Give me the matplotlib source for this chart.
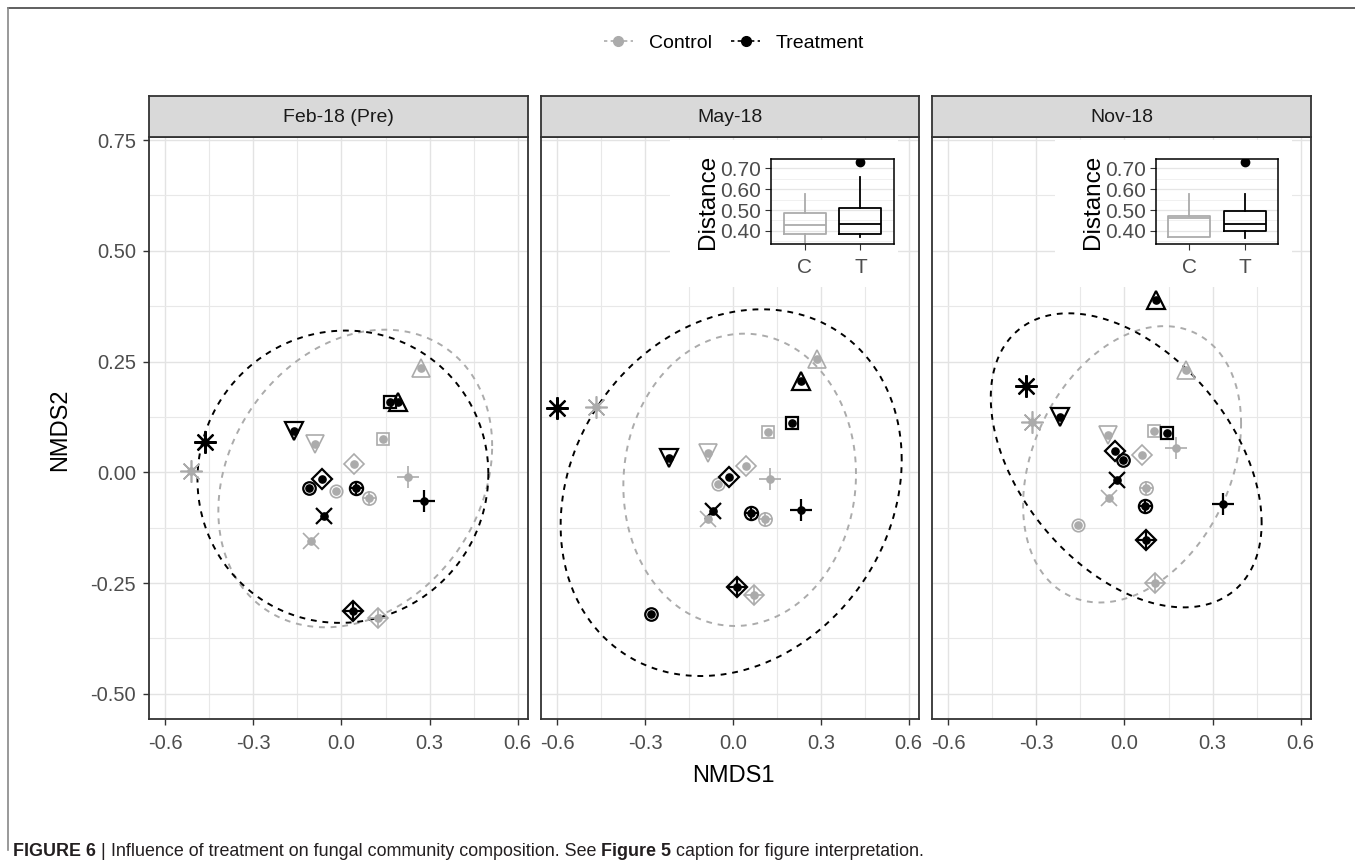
import numpy as np
import matplotlib
matplotlib.use('Agg')
import matplotlib.pyplot as plt
from matplotlib.lines import Line2D
from matplotlib.ticker import MultipleLocator, FormatStrFormatter

plt.rcParams['font.family'] = ['Liberation Sans', 'DejaVu Sans']
plt.rcParams['axes.unicode_minus'] = False

# sampling sites, one marker shape each (same order in every series)
sites = ['asterisk', 'tri_down', 'square', 'tri_up', 'diamond',
         'circle', 'circle_plus', 'cross', 'plus', 'diamond_plus']
panel_titles = ['Feb-18 (Pre)', 'May-18', 'Nov-18']

# NMDS scores
feb_ctrl_x = [-0.511, -0.089, 0.141, 0.271, 0.044, -0.018, 0.095, -0.105, 0.226, 0.126]
feb_ctrl_y = [0.003, 0.065, 0.075, 0.235, 0.018, -0.042, -0.057, -0.155, -0.010, -0.329]
feb_trt_x = [-0.463, -0.160, 0.166, 0.192, -0.066, -0.111, 0.050, -0.058, 0.280, 0.039]
feb_trt_y = [0.069, 0.093, 0.159, 0.158, -0.016, -0.035, -0.035, -0.099, -0.065, -0.314]

may_ctrl_x = [-0.469, -0.084, 0.120, 0.288, 0.044, -0.052, 0.109, -0.084, 0.126, 0.071]
may_ctrl_y = [0.148, 0.043, 0.090, 0.256, 0.014, -0.027, -0.106, -0.106, -0.016, -0.276]
may_trt_x = [-0.600, -0.218, 0.200, 0.231, -0.014, -0.279, 0.061, -0.067, 0.231, 0.013]
may_trt_y = [0.146, 0.032, 0.112, 0.207, -0.010, -0.320, -0.091, -0.088, -0.086, -0.259]

nov_ctrl_x = [-0.315, -0.057, 0.100, 0.210, 0.060, -0.159, 0.072, -0.054, 0.174, 0.103]
nov_ctrl_y = [0.114, 0.084, 0.093, 0.231, 0.038, -0.118, -0.035, -0.057, 0.054, -0.251]
nov_trt_x = [-0.336, -0.218, 0.146, 0.106, -0.031, -0.006, 0.069, -0.025, 0.336, 0.074]
nov_trt_y = [0.195, 0.124, 0.088, 0.388, 0.047, 0.027, -0.075, -0.017, -0.072, -0.153]

# 95% ellipses: centre x, centre y, half-width, half-height, tilt phase
feb_ctrl_ell = [0.047, -0.014, 0.466, 0.336, 0.22]
feb_trt_ell = [0.005, -0.010, 0.495, 0.330, 0.02]
may_ctrl_ell = [0.023, -0.017, 0.397, 0.330, 0.04]
may_trt_ell = [-0.006, -0.046, 0.582, 0.414, 0.18]
nov_ctrl_ell = [0.026, 0.018, 0.371, 0.312, 0.30]
nov_trt_ell = [0.006, 0.027, 0.461, 0.332, -0.44]

# distance to centroid boxplots (May, Nov)
box_labels = ['C', 'T']
may_ctrl_box = dict(whislo=0.349, q1=0.386, med=0.427, q3=0.487, whishi=0.575, fliers=[])
may_trt_box = dict(whislo=0.372, q1=0.384, med=0.433, q3=0.511, whishi=0.656, fliers=[0.727])
nov_ctrl_box = dict(whislo=0.372, q1=0.372, med=0.463, q3=0.470, whishi=0.575, fliers=[])
nov_trt_box = dict(whislo=0.367, q1=0.400, med=0.433, q3=0.495, whishi=0.575, fliers=[0.727])

ctrl_col = '#ABABAB'
trt_col = 'black'

shape_parts = {
    'asterisk': [((8, 2, 0), 16)],
    'tri_down': [('v', 13)],
    'square': [('s', 9)],
    'tri_up': [('^', 13)],
    'diamond': [('D', 10.5)],
    'circle': [('o', 9)],
    'circle_plus': [('o', 9.5), ('+', 9.5)],
    'cross': [('x', 12)],
    'plus': [('+', 16)],
    'diamond_plus': [('D', 10.5), ('+', 14.8)],
}

W, H = 1355, 864
fig = plt.figure(figsize=(W / 100, H / 100), dpi=100)


def frect(x0, y0, x1, y1):
    # pixel box (top-left origin) -> figure fraction rect
    return [x0 / W, 1 - y1 / H, (x1 - x0) / W, (y1 - y0) / H]


def draw_points(ax, xs, ys, col, ew):
    for i, s in enumerate(sites):
        for m, ms in shape_parts[s]:
            ax.plot([xs[i]], [ys[i]], ls='none', marker=m, ms=ms, mfc='none',
                    mec=col, mew=ew, zorder=4)
        ax.plot([xs[i]], [ys[i]], ls='none', marker='o', ms=5.2, color=col, zorder=5)


def draw_ellipse(ax, p, col):
    t = np.linspace(0, 2 * np.pi, 300)
    ex = p[0] + p[2] * np.cos(t)
    ey = p[1] + p[3] * np.sin(t + p[4])
    ax.plot(ex, ey, color=col, lw=1.4, ls=(0, (3, 3)), zorder=3)


def draw_inset(bg_box, box_box, c_stats, t_stats):
    bg = fig.add_axes(frect(*bg_box))
    bg.set_xticks([])
    bg.set_yticks([])
    for sp in bg.spines.values():
        sp.set_visible(False)
    bx = fig.add_axes(frect(*box_box))
    bx.set_xlim(0.4, 2.6)
    bx.set_ylim(0.338, 0.743)
    bx.yaxis.set_major_locator(MultipleLocator(0.1))
    bx.yaxis.set_minor_locator(MultipleLocator(0.05))
    bx.yaxis.set_major_formatter(FormatStrFormatter('%.2f'))
    bx.grid(True, which='major', axis='y', color='#E5E5E5', lw=0.9)
    bx.grid(True, which='minor', axis='y', color='#EEEEEE', lw=0.6)
    bx.set_axisbelow(True)
    for stats, col, pos in [(c_stats, ctrl_col, 1), (t_stats, trt_col, 2)]:
        props = dict(color=col, lw=1.3)
        bx.bxp([stats], positions=[pos], widths=0.75, showfliers=True,
               boxprops=props, whiskerprops=props, medianprops=props,
               capprops=dict(lw=0), flierprops=dict(marker='o', mfc=col, mec=col, ms=6))
    bx.set_xticks([1, 2])
    bx.set_xticklabels(box_labels)
    bx.tick_params(axis='both', colors='#333333', labelcolor='#4D4D4D', labelsize=15,
                   length=4, pad=3)
    bx.tick_params(axis='x', pad=6)
    bx.tick_params(axis='y', which='minor', length=0)
    bx.set_ylabel('Distance', fontsize=17.5, labelpad=1)
    for sp in bx.spines.values():
        sp.set_color('black')
        sp.set_linewidth(1.1)


ctrl_sets = [(feb_ctrl_x, feb_ctrl_y, feb_ctrl_ell), (may_ctrl_x, may_ctrl_y, may_ctrl_ell),
             (nov_ctrl_x, nov_ctrl_y, nov_ctrl_ell)]
trt_sets = [(feb_trt_x, feb_trt_y, feb_trt_ell), (may_trt_x, may_trt_y, may_trt_ell),
            (nov_trt_x, nov_trt_y, nov_trt_ell)]
panel_px = [(149, 528), (541, 919), (932, 1311)]

for k in range(3):
    x0, x1 = panel_px[k]
    ax = fig.add_axes(frect(x0, 137, x1, 719))
    ax.set_xlim(-0.655, 0.635)
    ax.set_ylim(-0.557, 0.757)
    ax.xaxis.set_major_locator(MultipleLocator(0.3))
    ax.xaxis.set_minor_locator(MultipleLocator(0.15))
    ax.yaxis.set_major_locator(MultipleLocator(0.25))
    ax.yaxis.set_minor_locator(MultipleLocator(0.125))
    ax.xaxis.set_major_formatter(FormatStrFormatter('%.1f'))
    ax.yaxis.set_major_formatter(FormatStrFormatter('%.2f'))
    ax.grid(True, which='major', color='#E3E3E3', lw=1.0)
    ax.grid(True, which='minor', color='#E8E8E8', lw=0.8)
    ax.set_axisbelow(True)
    ax.tick_params(axis='both', which='major', colors='#333333', labelcolor='#4D4D4D',
                   labelsize=14.5, length=4.5, width=1)
    ax.tick_params(axis='x', which='major', pad=6)
    ax.tick_params(axis='y', which='major', pad=5)
    ax.tick_params(axis='both', which='minor', length=0)
    if k > 0:
        ax.tick_params(axis='y', which='both', left=False, labelleft=False)
    for sp in ax.spines.values():
        sp.set_color('#333333')
        sp.set_linewidth(1.3)

    cx, cy, ce = ctrl_sets[k]
    tx, ty, te = trt_sets[k]
    draw_ellipse(ax, ce, ctrl_col)
    draw_ellipse(ax, te, trt_col)
    draw_points(ax, cx, cy, ctrl_col, 1.2)
    draw_points(ax, tx, ty, trt_col, 1.6)

    # facet strip
    st = fig.add_axes(frect(x0, 96, x1, 137))
    st.set_facecolor('#D9D9D9')
    st.set_xticks([])
    st.set_yticks([])
    for sp in st.spines.values():
        sp.set_color('#333333')
        sp.set_linewidth(1.3)
    st.text(0.5, 0.47, panel_titles[k], ha='center', va='center', fontsize=14,
            color='#1A1A1A', transform=st.transAxes)

draw_inset((670, 140, 898, 287), (771, 159, 894, 244), may_ctrl_box, may_trt_box)
draw_inset((1055, 140, 1292, 287), (1156, 159, 1278, 244), nov_ctrl_box, nov_trt_box)

fig.text(733 / W, 1 - 776 / H, 'NMDS1', ha='center', va='center', fontsize=17)
fig.text(60 / W, 1 - 430 / H, 'NMDS2', ha='center', va='center', fontsize=17, rotation=90)

handles = [Line2D([], [], color=ctrl_col, ls=(0, (2, 2)), lw=1.2, marker='o', ms=7),
           Line2D([], [], color=trt_col, ls=(0, (2, 2)), lw=1.2, marker='o', ms=7)]
fig.legend(handles, ['Control', 'Treatment'], loc='center', ncol=2, frameon=False,
           bbox_to_anchor=(734 / W, 1 - 43 / H), fontsize=14, handlelength=1.5,
           columnspacing=1.0, handletextpad=0.8)

# outer frame lines
fig.add_artist(Line2D([8 / W, 1], [1 - 8 / H, 1 - 8 / H], color='#444444', lw=1.2))
fig.add_artist(Line2D([8 / W, 8 / W], [1 - 8 / H, 1 - 850 / H], color='#888888', lw=1.2))

# caption
cap_font = ['Liberation Sans Narrow', 'Liberation Sans', 'DejaVu Sans']
pieces = [('FIGURE 6', 'bold'), (' | ', 'normal'),
          ('Influence of treatment on fungal community composition. See ', 'normal'),
          ('Figure 5', 'bold'), (' caption for figure interpretation.', 'normal')]
renderer = fig.canvas.get_renderer()
xpos = 13 / W
for txt, wt in pieces:
    t = fig.text(xpos, 1 - 852 / H, txt, ha='left', va='center', fontsize=12.9,
                 fontweight=wt, family=cap_font, color='#231F20')
    bb = t.get_window_extent(renderer)
    xpos = bb.x1 / W

fig.savefig('out.png', dpi=100)
